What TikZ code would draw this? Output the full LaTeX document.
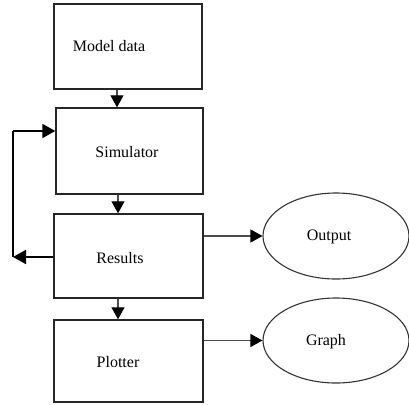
\documentclass[tikz,border=0pt]{standalone}
\usepackage{fontspec}
\setmainfont{Liberation Serif}
\usetikzlibrary{arrows.meta,shapes.geometric}
\begin{document}
\begin{tikzpicture}[x=1pt,y=-1pt,
  boxnode/.style={draw=black!85,line width=1.4pt,rectangle,inner sep=0pt},
  ovalnode/.style={draw=black!80,line width=1.1pt,ellipse,inner sep=0pt},
  txt/.style={inner sep=0pt,font=\fontsize{16}{18}\selectfont},
  conn/.style={draw=black!70,line width=1.1pt,-{Triangle[length=12pt,width=13pt,color=black]}},
  fbline/.style={draw=black,line width=1.8pt}]
\useasboundingbox (0,0) rectangle (409,404);
\node[boxnode,minimum width=148pt,minimum height=85pt] (model) at (128,46.5) {};
\node[boxnode,minimum width=147pt,minimum height=86pt] (sim) at (129.5,151) {};
\node[boxnode,minimum width=149pt,minimum height=84pt] (res) at (128.5,256) {};
\node[boxnode,minimum width=149pt,minimum height=82pt] (plot) at (128.5,361) {};
\node[ovalnode,minimum width=146pt,minimum height=86pt] (out) at (336,236) {};
\node[ovalnode,minimum width=146pt,minimum height=85pt] (graph) at (336,340.5) {};
\node[txt] (tmodel) at (109,46) {Model data};
\node[txt] (tsim) at (127,152) {Simulator};
\node[txt] (tres) at (120,258) {Results};
\node[txt] (tplot) at (118,362) {Plotter};
\node[txt] (tout) at (329,237) {Output};
\node[txt] (tgraph) at (326,342) {Graph};
\coordinate (x1) at (117,0);
\coordinate (x2) at (118,0);
\coordinate (x3) at (118,0);
\coordinate (fbbot) at (13,257);
\coordinate (fbtop) at (13,131);
\draw[conn] (model.south -| x1) -- (sim.north -| x1);
\draw[conn] (sim.south -| x2) -- (res.north -| x2);
\draw[conn] (res.south -| x3) -- (plot.north -| x3);
\draw[fbline,-{Triangle[length=13pt,width=14pt]}] (res.west |- fbbot) -- (fbbot);
\draw[fbline] (fbbot) -- (fbtop);
\draw[fbline,-{Triangle[length=13pt,width=14pt]}] (fbtop) -- (sim.west |- fbtop);
\draw[conn] (res.east |- out.west) -- (out.west);
\draw[conn] (plot.east |- graph.west) -- (graph.west);
\end{tikzpicture}
\end{document}
